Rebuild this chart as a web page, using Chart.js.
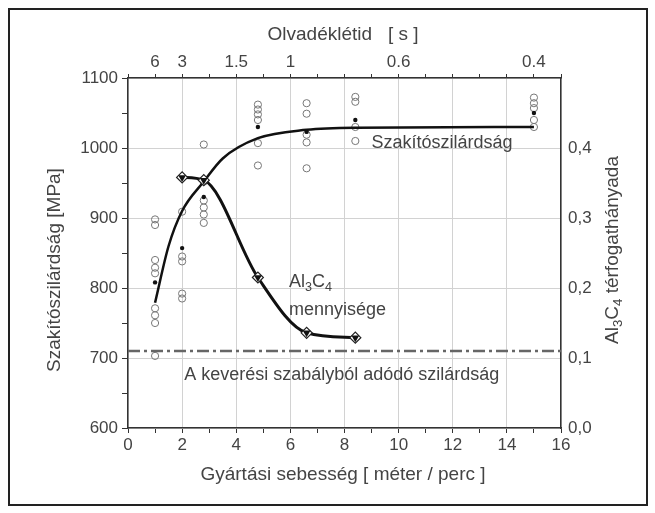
<!DOCTYPE html>
<html>
<head>
<meta charset="utf-8">
<script src="https://cdn.jsdelivr.net/npm/chart.js@4.4.1/dist/chart.umd.min.js"></script>
<style>
  body { margin: 0; background: #fff; }
  #wrap { width: 655px; height: 513px; }
</style>
</head>
<body>
<div id="wrap"><canvas id="grafico" width="655" height="513"></canvas></div>
<script>
// sebességek (méter / perc)
const speeds = [1, 2, 2.8, 4.8, 6.6, 8.4, 15];

// egyedi mérések (MPa), sebességenként
const meas_1 = [898, 890, 840, 829, 821, 771, 761, 750, 703];
const meas_2 = [909, 845, 838, 792, 785];
const meas_28 = [1005, 952, 925, 915, 905, 893];
const meas_48 = [1062, 1055, 1048, 1040, 1007, 975];
const meas_66 = [1064, 1049, 1019, 1008, 971];
const meas_84 = [1073, 1066, 1030, 1010];
const meas_15 = [1072, 1064, 1057, 1040, 1030];
const measAll = [meas_1, meas_2, meas_28, meas_48, meas_66, meas_84, meas_15];

// átlagok
const means = [808, 857, 930, 1030, 1023, 1040, 1050];

// illesztett szilárdsági görbe
const fitX = [1, 1.5, 2, 2.8, 3.5, 4.8, 6.6, 8.4, 15];
const fitY = [779, 860, 910, 952, 985, 1014, 1026, 1029, 1030];

// Al3C4 mennyiség (térfogathányad)
const alX = [2, 2.8, 4.8, 6.6, 8.4];
const alY = [0.358, 0.354, 0.215, 0.136, 0.129];

// keverési szabály
const ruleX = [0, 16];
const ruleY = [710, 710];

// felső tengely: olvadéklétid
const topTickPos = [1, 2, 4, 6, 10, 15];
const topTickLabels = ['6', '3', '1.5', '1', '0.6', '0.4'];

const txt = '#444';
const fnt = '"Liberation Sans", Arial, sans-serif';

const circlePts = [];
measAll.forEach((arr, i) => arr.forEach(v => circlePts.push({x: speeds[i], y: v})));

const ctx = document.getElementById('grafico');

function richText(c, parts, x, y, size, align) {
  // parts: [szöveg, alsó index?]
  let w = 0;
  parts.forEach(p => {
    c.font = (p[1] ? size * 0.7 : size) + 'px ' + fnt;
    w += c.measureText(p[0]).width;
  });
  let cx = align === 'left' ? x : x - w / 2;
  c.textAlign = 'left';
  parts.forEach(p => {
    c.font = (p[1] ? size * 0.7 : size) + 'px ' + fnt;
    c.fillText(p[0], cx, p[1] ? y + size * 0.3 : y);
    cx += c.measureText(p[0]).width;
  });
}

const feliratok = {
  id: 'feliratok',
  afterDraw(chart) {
    const c = chart.ctx;
    const sx = chart.scales.x, sy = chart.scales.y;
    c.save();
    c.fillStyle = txt;
    c.textBaseline = 'middle';
    c.font = '19px ' + fnt;

    // tengelycímek
    c.textAlign = 'center';
    c.fillText('Olvadéklétid   [ s ]', 343, 35);
    c.fillText('Gyártási sebesség [ méter / perc ]', 343, 475);
    c.save();
    c.translate(55, 270);
    c.rotate(-Math.PI / 2);
    c.fillText('Szakítószilárdság [MPa]', 0, 0);
    c.restore();
    c.save();
    c.translate(613, 250);
    c.rotate(-Math.PI / 2);
    richText(c, [['Al'], ['3', 1], ['C'], ['4', 1], [' térfogathányada']], 0, 0, 19, 'center');
    c.restore();

    // feliratok a rajzon
    c.textAlign = 'left';
    c.font = '18px ' + fnt;
    c.fillText('Szakítószilárdság', sx.getPixelForValue(9.0), sy.getPixelForValue(1007));
    richText(c, [['Al'], ['3', 1], ['C'], ['4', 1]], sx.getPixelForValue(5.95), sy.getPixelForValue(809), 18, 'left');
    c.font = '18px ' + fnt;
    c.fillText('mennyisége', sx.getPixelForValue(5.95), sy.getPixelForValue(769));
    c.textAlign = 'center';
    c.fillText('A keverési szabályból adódó szilárdság', sx.getPixelForValue(7.9), sy.getPixelForValue(675));

    // külső keret
    c.strokeStyle = '#222';
    c.lineWidth = 2;
    c.strokeRect(9, 9, 638, 496);
    c.restore();
  }
};

const axisBorder = {display: true, color: '#333', width: 1.5};
const tickFont = {family: fnt, size: 17};

new Chart(ctx, {
  type: 'scatter',
  data: {
    datasets: [
      {
        label: 'keverési szabály',
        type: 'line',
        order: 6,
        data: ruleX.map((x, i) => ({x: x, y: ruleY[i]})),
        borderColor: '#666',
        borderWidth: 2.5,
        borderDash: [12, 4, 3, 4],
        pointRadius: 0
      },
      {
        label: 'mérések',
        order: 5,
        data: circlePts,
        pointStyle: 'circle',
        pointRadius: 3.6,
        borderWidth: 1,
        borderColor: '#777',
        backgroundColor: 'rgba(255,255,255,0)'
      },
      {
        label: 'átlag',
        order: 2,
        data: speeds.map((x, i) => ({x: x, y: means[i]})),
        pointStyle: 'circle',
        pointRadius: 2.2,
        borderWidth: 0,
        backgroundColor: '#111'
      },
      {
        label: 'Szakítószilárdság',
        type: 'line',
        order: 4,
        data: fitX.map((x, i) => ({x: x, y: fitY[i]})),
        borderColor: '#111',
        borderWidth: 2.5,
        cubicInterpolationMode: 'monotone',
        pointRadius: 0
      },
      {
        label: 'Al3C4',
        type: 'line',
        order: 3,
        yAxisID: 'y2',
        data: alX.map((x, i) => ({x: x, y: alY[i]})),
        borderColor: '#111',
        borderWidth: 3,
        cubicInterpolationMode: 'monotone',
        pointRadius: 0
      },
      {
        label: 'Al3C4 rombusz',
        order: 1,
        yAxisID: 'y2',
        data: alX.map((x, i) => ({x: x, y: alY[i]})),
        pointStyle: 'rectRot',
        pointRadius: 5.5,
        borderWidth: 1.2,
        borderColor: '#222',
        backgroundColor: '#fff'
      },
      {
        label: 'Al3C4 háromszög',
        order: 0,
        yAxisID: 'y2',
        data: alX.map((x, i) => ({x: x, y: alY[i]})),
        pointStyle: 'triangle',
        rotation: 180,
        pointRadius: 4.5,
        borderWidth: 0,
        backgroundColor: '#111'
      }
    ]
  },
  options: {
    responsive: false,
    animation: false,
    layout: {padding: 0},
    plugins: {
      legend: {display: false},
      tooltip: {enabled: false}
    },
    scales: {
      x: {
        type: 'linear',
        position: 'bottom',
        min: 0, max: 16,
        afterFit: s => { s.height = 85; },
        border: axisBorder,
        grid: {
          color: c => (c.tick && c.tick.value % 2 === 0 ? '#d2d2d2' : 'rgba(0,0,0,0)'),
          tickColor: '#333',
          tickLength: 5
        },
        ticks: {
          stepSize: 1,
          autoSkip: false,
          maxRotation: 0,
          padding: 2,
          color: txt,
          font: tickFont,
          callback: v => (v % 2 === 0 ? String(v) : '')
        }
      },
      x2: {
        type: 'linear',
        position: 'top',
        min: 0, max: 16,
        afterFit: s => { s.height = 78; },
        afterBuildTicks: s => {
          const t = [];
          for (let v = 0; v <= 16; v++) t.push({value: v});
          s.ticks = t;
        },
        border: axisBorder,
        grid: {drawOnChartArea: false, tickColor: '#333', tickLength: 4},
        ticks: {
          autoSkip: false,
          maxRotation: 0,
          padding: 1,
          color: txt,
          font: tickFont,
          callback: v => {
            const k = topTickPos.indexOf(v);
            return k >= 0 ? topTickLabels[k] : '';
          }
        }
      },
      y: {
        type: 'linear',
        position: 'left',
        min: 600, max: 1100,
        afterFit: s => { s.width = 128; },
        border: axisBorder,
        grid: {
          color: c => (c.tick && c.tick.value % 100 === 0 ? '#d2d2d2' : 'rgba(0,0,0,0)'),
          tickColor: '#333',
          tickLength: 6
        },
        ticks: {
          stepSize: 50,
          autoSkip: false,
          padding: 4,
          color: txt,
          font: tickFont,
          callback: v => (v % 100 === 0 ? String(v) : '')
        }
      },
      y2: {
        type: 'linear',
        position: 'right',
        min: 0, max: 0.5,
        afterFit: s => { s.width = 94; },
        border: axisBorder,
        grid: {drawOnChartArea: false, drawTicks: false},
        ticks: {
          stepSize: 0.1,
          autoSkip: false,
          padding: 7,
          color: txt,
          font: tickFont,
          callback: v => (Math.round(v * 10) >= 5 ? '' : v.toFixed(1).replace('.', ','))
        }
      }
    }
  },
  plugins: [feliratok]
});
</script>
</body>
</html>
